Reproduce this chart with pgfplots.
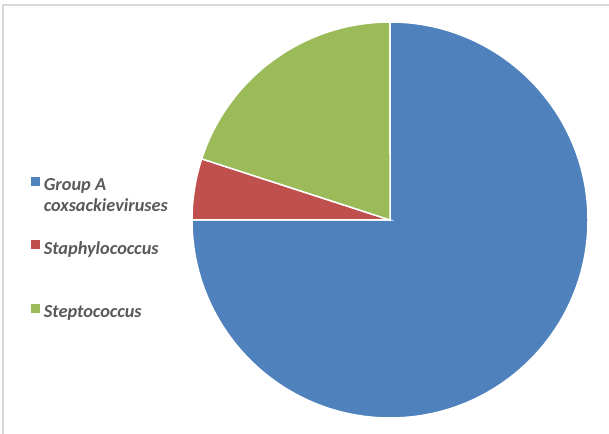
\documentclass[border=0pt]{standalone}
\usepackage{pgfplots}
\pgfplotsset{compat=1.18}
\usepackage{pgfplotstable}
\usepackage{fontspec}
\setmainfont{Carlito}
\definecolor{cA}{HTML}{4F81BD}
\definecolor{cB}{HTML}{C0504D}
\definecolor{cC}{HTML}{9BBB59}
\definecolor{txt}{HTML}{595959}
\definecolor{frame}{HTML}{D9D9D9}
\pgfplotstableread{
label value
GroupA 75
Staph 5
Strep 20
}\piedata
\begin{document}
\begin{tikzpicture}[x=1bp,y=1bp]
\pgfplotstablegetelem{0}{value}\of\piedata \let\va\pgfplotsretval
\pgfplotstablegetelem{1}{value}\of\piedata \let\vb\pgfplotsretval
\pgfplotstablegetelem{2}{value}\of\piedata \let\vc\pgfplotsretval
\pgfmathsetmacro\tot{\va+\vb+\vc}
\pgfmathsetmacro\sA{90}
\pgfmathsetmacro\dA{-3.6*(\va/\tot)*100}
\pgfmathsetmacro\sB{\sA+\dA}
\pgfmathsetmacro\dB{-3.6*(\vb/\tot)*100}
\pgfmathsetmacro\sC{\sB+\dB}
\pgfmathsetmacro\dC{-3.6*(\vc/\tot)*100}
\path[use as bounding box] (0,0) rectangle (609,434);
\draw[frame, line width=1.5bp] (3,0) -- (3,429) -- (609,429);
\begin{axis}[
  at={(192bp,16bp)}, anchor=south west,
  width=396bp, height=396bp, scale only axis,
  xmin=-1, xmax=1, ymin=-1, ymax=1,
  axis lines=none, ticks=none, clip=false,
  legend cell align=left,
  legend style={at={(-0.406,0.617)}, anchor=north west, draw=none, fill=none,
    inner sep=0pt, row sep=43.5bp,
    nodes={text=txt, font=\fontsize{18.3bp}{21bp}\selectfont\bfseries\itshape, inner sep=2bp},
  },
  legend image code/.code={\fill[#1] (0bp,-1bp) rectangle (8bp,7bp); \path (10bp,3bp);},
]
\addlegendimage{cA}
\addlegendentry{\begin{tabular}[t]{@{}l@{}}Group A\\coxsackieviruses\end{tabular}}
\addlegendimage{cB}
\addlegendentry{\begin{tabular}[t]{@{}l@{}}Staphylococcus\\\mbox{}\end{tabular}}
\addlegendimage{cC}
\addlegendentry{\begin{tabular}[t]{@{}l@{}}Steptococcus\\\mbox{}\end{tabular}}
\fill[cA, draw=white, line width=1.5bp] (axis cs:0,0) -- (axis cs:{cos(\sA)},{sin(\sA)}) arc[start angle=\sA, delta angle=\dA, radius=198bp] -- cycle;
\fill[cB, draw=white, line width=1.5bp] (axis cs:0,0) -- (axis cs:{cos(\sB)},{sin(\sB)}) arc[start angle=\sB, delta angle=\dB, radius=198bp] -- cycle;
\fill[cC, draw=white, line width=1.5bp] (axis cs:0,0) -- (axis cs:{cos(\sC)},{sin(\sC)}) arc[start angle=\sC, delta angle=\dC, radius=198bp] -- cycle;
\end{axis}
\end{tikzpicture}
\end{document}
